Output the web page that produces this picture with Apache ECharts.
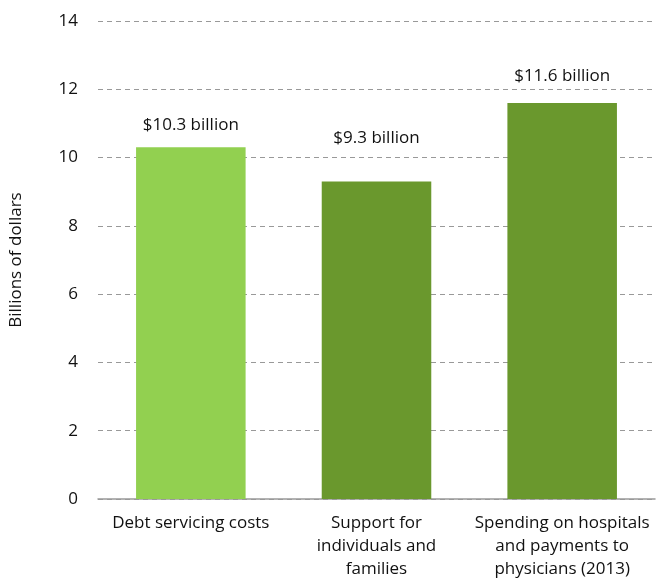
<!DOCTYPE html>
<html>
<head>
<meta charset="utf-8">
<script src="https://cdn.jsdelivr.net/npm/echarts@6/dist/echarts.min.js"></script>
<style>
  html, body { margin: 0; padding: 0; background: #fff; }
  #chart { width: 661px; height: 582px; }
</style>
</head>
<body>
<div id="chart"></div>
<script>
const categories = ['Debt servicing costs', 'Support for\nindividuals and\nfamilies', 'Spending on hospitals\nand payments to\nphysicians (2013)']
const values = [10.3, 9.3, 11.6]
const valueLabels = ['$10.3 billion', '$9.3 billion', '$11.6 billion']
const barColors = ['#92d050', '#6a982d', '#6a982d']
const labelGaps = [14, 35, 18]

const font = '"Open Sans", sans-serif'

const chart = echarts.init(document.getElementById('chart'))

chart.setOption({
  animation: false,
  grid: { left: 98, right: 6, top: 21, bottom: 83 },
  xAxis: {
    type: 'category',
    data: categories,
    axisTick: { show: false },
    axisLine: { lineStyle: { color: '#999', width: 1.5 } },
    axisLabel: {
      color: '#111',
      fontFamily: font,
      fontSize: 17,
      lineHeight: 23,
      margin: 13,
      interval: 0
    }
  },
  yAxis: {
    type: 'value',
    min: 0,
    max: 14,
    interval: 2,
    name: 'Billions of dollars',
    nameLocation: 'middle',
    nameGap: 73,
    nameTextStyle: { color: '#111', fontFamily: font, fontSize: 17 },
    axisLine: { show: false },
    axisTick: { show: false },
    axisLabel: { color: '#111', fontFamily: font, fontSize: 17, margin: 20 },
    splitLine: { lineStyle: { color: '#999', type: [5, 4], width: 1 } }
  },
  series: [{
    type: 'bar',
    barWidth: '59%',
    data: values.map((v, i) => ({
      value: v,
      itemStyle: { color: barColors[i] },
      label: {
        show: true,
        position: 'top',
        distance: labelGaps[i],
        formatter: valueLabels[i],
        color: '#111',
        fontFamily: font,
        fontSize: 17
      }
    }))
  }]
})
</script>
</body>
</html>
